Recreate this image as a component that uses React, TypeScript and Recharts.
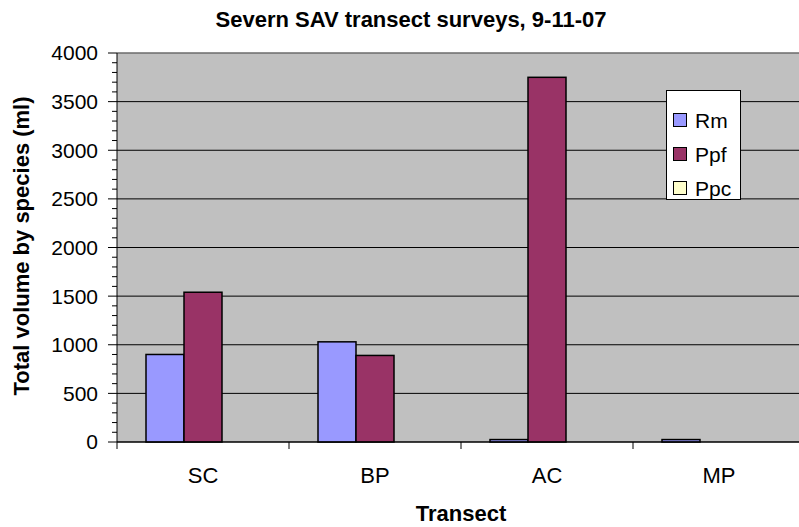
import React from 'react';
import {
  BarChart,
  Bar,
  XAxis,
  YAxis,
  CartesianGrid,
  Legend,
  ReferenceLine,
} from 'recharts';

// Transects surveyed and volume per species (ml)
const transects = ['SC', 'BP', 'AC', 'MP'];
const rmVolume = [900, 1030, 25, 25];
const ppfVolume = [1540, 890, 3750, 0];
const ppcVolume = [0, 0, 0, 0];

const speciesNames = ['Rm', 'Ppf', 'Ppc'];
const speciesColors = ['#9999FF', '#993366', '#FFFFCC'];

const yTicks = [0, 500, 1000, 1500, 2000, 2500, 3000, 3500, 4000];
const yMinorTicks = [
  0, 100, 200, 300, 400, 500, 600, 700, 800, 900, 1000, 1100, 1200, 1300, 1400,
  1500, 1600, 1700, 1800, 1900, 2000, 2100, 2200, 2300, 2400, 2500, 2600, 2700,
  2800, 2900, 3000, 3100, 3200, 3300, 3400, 3500, 3600, 3700, 3800, 3900, 4000,
];
const Y_MAX = 4000;

const data = transects.map((name, i) => ({
  name,
  Rm: rmVolume[i],
  Ppf: ppfVolume[i],
  Ppc: ppcVolume[i],
}));

const FONT = "'Liberation Sans', Arial, Helvetica, sans-serif";
const BAND = 172; // largeur d'une catégorie en px

// Étiquette de catégorie + graduation entre catégories (style Excel)
const CategoryTick = ({ x, y, payload }: any) => (
  <g>
    <line x1={x - BAND / 2} x2={x - BAND / 2} y1={y} y2={y + 7} stroke="#000" />
    <text x={x} y={y + 41} textAnchor="middle" fontSize={22} fill="#000">
      {payload.value}
    </text>
  </g>
);

// Graduations Y : grandes tous les 500 avec libellé, petites tous les 100
const ValueTick = ({ x, y, payload }: any) => {
  const major = yTicks.includes(payload.value);
  return (
    <g>
      <line x1={x - (major ? 9 : 5)} x2={x} y1={y} y2={y} stroke="#000" />
      {major && (
        <text x={x - 19} y={y} dy="0.355em" textAnchor="end" fontSize={21} fill="#000">
          {payload.value}
        </text>
      )}
    </g>
  );
};

// Quadrillage seulement sur les grandes graduations
const gridLines = ({ offset }: any) => {
  if (!offset) return [];
  return yTicks.map((v) => offset.top + offset.height * (1 - v / Y_MAX));
};

// Barre avec contour noir
const OutlinedBar = (props: any) => {
  const { x, y, width, height, fill } = props;
  if (!height || height <= 0) return null;
  return (
    <rect
      x={x}
      y={y}
      width={width}
      height={height}
      fill={fill}
      stroke="#000"
      strokeWidth={1.5}
    />
  );
};

const LegendBox = () => (
  <div
    style={{
      position: 'relative',
      width: 73,
      height: 108,
      background: '#fff',
      border: '1px solid #000',
      fontFamily: FONT,
    }}
  >
    {speciesNames.map((name, i) => (
      <div
        key={name}
        style={{
          position: 'absolute',
          left: 6,
          top: 21 + i * 34,
          height: 16,
          display: 'flex',
          alignItems: 'center',
        }}
      >
        <span
          style={{
            width: 12,
            height: 12,
            background: speciesColors[i],
            border: '1px solid #000',
            display: 'inline-block',
          }}
        />
        <span style={{ marginLeft: 8, fontSize: 21, lineHeight: 1, color: '#000' }}>
          {name}
        </span>
      </div>
    ))}
  </div>
);

export default function App() {
  return (
    <div
      style={{
        position: 'absolute',
        left: 0,
        top: 0,
        width: 799,
        height: 527,
        overflow: 'hidden',
        background: '#fff',
        fontFamily: FONT,
      }}
    >
      <BarChart
        width={810}
        height={527}
        data={data}
        margin={{ top: 53, right: 5, left: 0, bottom: 40 }}
        barCategoryGap={29}
        barGap={0}
      >
        <CartesianGrid
          fill="#C0C0C0"
          stroke="#000"
          vertical={false}
          horizontalCoordinatesGenerator={gridLines}
        />
        <ReferenceLine y={4000} stroke="#A0A0A0" />
        <XAxis
          dataKey="name"
          height={45}
          tickLine={false}
          tickSize={0}
          tickMargin={0}
          axisLine={{ stroke: '#000' }}
          tick={<CategoryTick />}
          interval={0}
        />
        <YAxis
          domain={[0, Y_MAX]}
          ticks={yMinorTicks}
          interval={0}
          width={117}
          tickSize={0}
          tickMargin={0}
          axisLine={{ stroke: '#000' }}
          tickLine={false}
          tick={<ValueTick />}
        />
        <Legend
          layout="vertical"
          align="center"
          verticalAlign="middle"
          wrapperStyle={{ left: 666, top: 90, width: 75 }}
          content={<LegendBox />}
        />
        {speciesNames.map((s, i) => (
          <Bar
            key={s}
            dataKey={s}
            fill={speciesColors[i]}
            stroke="#000"
            shape={<OutlinedBar />}
            isAnimationActive={false}
          />
        ))}
      </BarChart>
      <svg
        width={799}
        height={527}
        style={{ position: 'absolute', left: 0, top: 0, pointerEvents: 'none' }}
      >
        <text x={411} y={27} textAnchor="middle" fontSize={22} fontWeight="bold" fill="#000">
          Severn SAV transect surveys, 9-11-07
        </text>
        <text
          x={29}
          y={246}
          transform="rotate(-90 29 246)"
          textAnchor="middle"
          fontSize={22}
          fontWeight="bold"
          fill="#000"
        >
          Total volume by species (ml)
        </text>
        <text x={461} y={521} textAnchor="middle" fontSize={22} fontWeight="bold" fill="#000">
          Transect
        </text>
      </svg>
    </div>
  );
}
